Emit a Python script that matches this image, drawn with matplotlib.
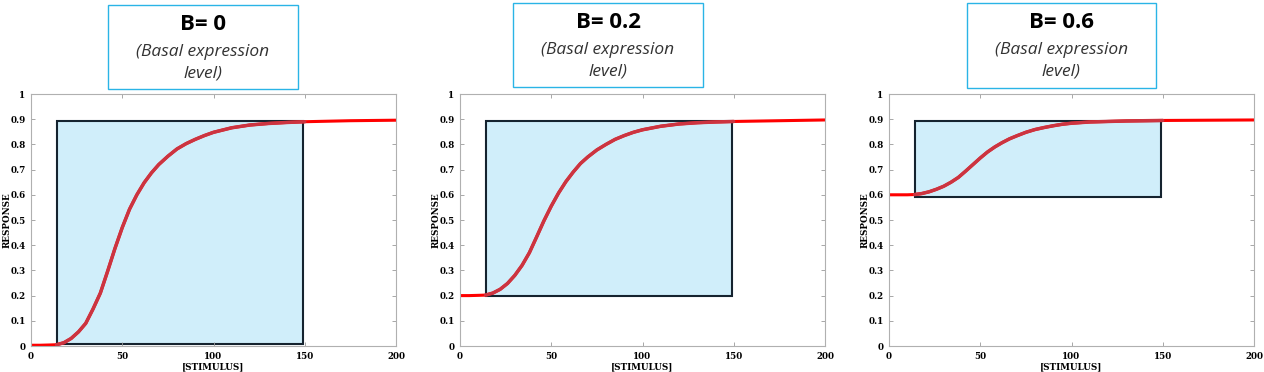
import matplotlib
matplotlib.use("Agg")
from matplotlib import pyplot as plt
from matplotlib.patches import Rectangle
from matplotlib.font_manager import FontProperties
import numpy as np

stimulus = [0, 5, 10, 14, 18, 22, 26, 30, 34, 38, 42, 46, 50, 54, 58, 62, 66,
            70, 75, 80, 85, 90, 95, 100, 110, 120, 130, 140, 150, 175, 200]

resp_b0 = [0.003, 0.003, 0.004, 0.005, 0.013, 0.03, 0.056, 0.09, 0.147, 0.21,
           0.297, 0.387, 0.47, 0.543, 0.60, 0.648, 0.687, 0.72, 0.753, 0.782,
           0.803, 0.82, 0.835, 0.848, 0.866, 0.877, 0.883, 0.887, 0.89,
           0.894, 0.896]
resp_b02 = [0.2, 0.2, 0.201, 0.202, 0.21, 0.225, 0.248, 0.28, 0.32, 0.37,
            0.433, 0.497, 0.555, 0.607, 0.652, 0.69, 0.724, 0.75, 0.778, 0.80,
            0.82, 0.835, 0.848, 0.858, 0.872, 0.881, 0.886, 0.889, 0.891,
            0.894, 0.897]
resp_b06 = [0.6, 0.6, 0.6, 0.601, 0.605, 0.612, 0.622, 0.634, 0.65, 0.669,
            0.694, 0.72, 0.746, 0.77, 0.79, 0.807, 0.822, 0.834, 0.848, 0.859,
            0.867, 0.874, 0.88, 0.884, 0.889, 0.891, 0.893, 0.894, 0.895,
            0.896, 0.897]

titles = ["B= 0", "B= 0.2", "B= 0.6"]
responses = [resp_b0, resp_b02, resp_b06]

# shaded window
win_x = (14, 149)
win_bottom = [0.009, 0.197, 0.592]
win_top = 0.892

fig = plt.figure(figsize=(12.64, 3.72), dpi=100)
W, H = 1264, 372

ax_lefts = [31, 460, 889]
box_specs = [(108, 5, 190, 84), (513, 3, 190, 84), (967, 3, 189, 85)]

tick_font = dict(family="DejaVu Serif", weight="bold", size=6.3)

for i in range(3):
    ax = fig.add_axes([ax_lefts[i] / W, 26 / H, 365 / W, 252 / H])
    x = np.array(stimulus)
    y = np.array(responses[i])

    ax.add_patch(Rectangle((win_x[0], win_bottom[i]), win_x[1] - win_x[0],
                           win_top - win_bottom[i], facecolor="#d0eefa",
                           edgecolor="#15232f", lw=1.5, zorder=1))
    ax.plot(x, y, color="#ff0000", lw=2.2, zorder=2, solid_capstyle="butt")
    m = (x >= 14) & (x <= 150)
    ax.plot(x[m], y[m], color="#cc3440", lw=2.5, zorder=3,
            solid_capstyle="round", solid_joinstyle="round")

    ax.set_xlim(0, 200)
    ax.set_ylim(0, 1)
    ax.set_xticks([0, 50, 100, 150, 200])
    ax.set_yticks(np.round(np.arange(0, 1.01, 0.1), 1))
    ax.set_yticklabels(["0", "0.1", "0.2", "0.3", "0.4", "0.5", "0.6",
                        "0.7", "0.8", "0.9", "1"])
    ax.tick_params(direction="in", length=3, width=0.6, color="#999999",
                   top=True, right=True, pad=4)
    for lab in ax.get_xticklabels() + ax.get_yticklabels():
        lab.set_fontproperties(FontProperties(**tick_font))
    for sp in ax.spines.values():
        sp.set_color("#b0b0b0")
        sp.set_linewidth(0.8)
    ax.set_xlabel("[STIMULUS]", fontdict=tick_font, labelpad=1)
    ax.set_ylabel("RESPONSE", fontdict=tick_font)
    ax.yaxis.label.set_va("center")
    ax.yaxis.set_label_coords(-0.066, 0.5)

    # title box above each panel
    bx, by, bw, bh = box_specs[i]
    fig.patches.append(Rectangle((bx / W, 1 - (by + bh) / H), bw / W, bh / H,
                                 transform=fig.transFigure, facecolor="white",
                                 edgecolor="#2ab4e6", lw=1.0))
    cx = (bx + bw / 2) / W
    fig.text(cx, 1 - (by + 19) / H, titles[i], ha="center", va="center",
             fontsize=16, fontweight="bold", family="Open Sans")
    fig.text(cx, 1 - (by + 47) / H, "(Basal expression", ha="center",
             va="center", fontsize=12.5, style="italic", family="Open Sans",
             color="#333333")
    fig.text(cx, 1 - (by + 68) / H, "level)", ha="center", va="center",
             fontsize=12.5, style="italic", family="Open Sans",
             color="#333333")

fig.savefig("out.png", dpi=100)
